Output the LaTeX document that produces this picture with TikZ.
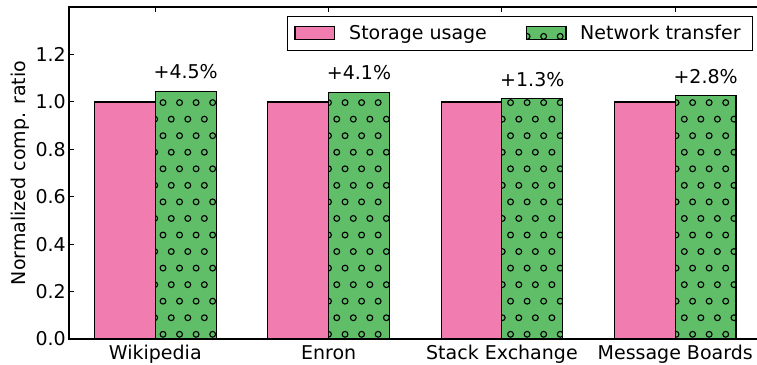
\documentclass[tikz,border=0pt]{standalone}
\usepackage{fontspec}
\setmainfont{DejaVu Sans}
\definecolor{storagepink}{HTML}{F17CB0}
\definecolor{netgreen}{HTML}{60BD68}
\begin{document}
\begin{tikzpicture}[x=1pt,y=1pt,
  font=\fontsize{19}{23}\selectfont,
  txt/.style={inner sep=0pt},
  spine/.style={line width=1.5pt},
  tickmark/.style={line width=1pt},
  barpink/.style={fill=storagepink,draw=black,line width=1.1pt},
  bargreenfill/.style={fill=netgreen},
  baredge/.style={draw=black,line width=1.1pt},
  hatchdot/.style={draw=black,line width=1.1pt},
  legendframe/.style={draw=black,fill=white,line width=1pt}]
\useasboundingbox (0,0) rectangle (757,364);
\fill[white] (0,0) rectangle (757,364);

% group centres (x) and plot heights: y = 25 + 237*value
% storage bars
\foreach \c in {155.3,328.6,501.9,675.2}
  \draw[barpink] (\c-60.8,25) rectangle (\c,262);

% network transfer bars: fill, dotted hatch, outline
\foreach \c/\h in {155.3/272.67,328.6/271.72,501.9/265.08,675.2/268.64}
  \fill[bargreenfill] (\c,25) rectangle (\c+60.8,\h);
\fill[bargreenfill] (526.7,324.7) rectangle (566,337.3);

\begin{scope}
  \clip (155.3,25) rectangle (216.1,272.67)
        (328.6,25) rectangle (389.4,271.72)
        (501.9,25) rectangle (562.7,265.08)
        (675.2,25) rectangle (736.0,268.64)
        (526.7,324.7) rectangle (566,337.3);
  \foreach \j in {0,...,9}{
    \foreach \k in {0,...,35}{
      \draw[hatchdot] ({163+16.55*\k},{29.7+33.1*\j}) circle[radius=2.9];
      \draw[hatchdot] ({154.7+16.55*\k},{46.25+33.1*\j}) circle[radius=2.9];
    }}
\end{scope}

\foreach \c/\h in {155.3/272.67,328.6/271.72,501.9/265.08,675.2/268.64}
  \draw[baredge] (\c,25) rectangle (\c+60.8,\h);
\draw[baredge] (526.7,324.7) rectangle (566,337.3);

% value labels above the network bars
\node[txt,anchor=base] (labA) at (185.7,285.05) {+4.5\%};
\node[txt,anchor=base] (labB) at (359.0,284.05) {+4.1\%};
\node[txt,anchor=base] (labC) at (532.3,277.09) {+1.3\%};
\node[txt,anchor=base] (labD) at (705.6,280.82) {+2.8\%};

% ticks
\foreach \y in {25,72.4,119.8,167.2,214.6,262,309.4,356.8}{
  \draw[tickmark] (69,\y) -- (74,\y);
  \draw[tickmark] (762,\y) -- (757,\y);
}
\foreach \c in {155.3,328.6,501.9,675.2}{
  \draw[tickmark] (\c,356.8) -- (\c,351.8);
  \draw[tickmark] (\c,25) -- (\c,30);
}

% axes frame
\draw[spine] (69,25) rectangle (762,356.8);

% y tick labels
\foreach \y/\t in {25/0.0,72.4/0.2,119.8/0.4,167.2/0.6,214.6/0.8,262/1.0,309.4/1.2}
  \node[txt,anchor=base east] at (66,\y-6.9) {\t};

% axis label
\node[txt,rotate=90,anchor=base] (ylab) at (25.5,191) {Normalized comp. ratio};

% category labels
\node[txt,anchor=base] (catA) at (155.3,5) {Wikipedia};
\node[txt,anchor=base] (catB) at (328.6,5) {Enron};
\node[txt,anchor=base] (catC) at (501.9,5) {Stack Exchange};
\node[txt,anchor=base] (catD) at (675.2,5) {Message Boards};

% legend
\draw[legendframe] (287.3,313.3) rectangle (752.7,347.3);
\draw[barpink] (295,324.7) rectangle (334.3,337.3);
\fill[bargreenfill] (526.7,324.7) rectangle (566,337.3);
\begin{scope}
  \clip (526.7,324.7) rectangle (566,337.3);
  \foreach \k in {22,23,24}
    \draw[hatchdot] ({163+16.55*\k},327.6) circle[radius=2.9];
\end{scope}
\draw[baredge] (526.7,324.7) rectangle (566,337.3);
\node[txt,anchor=base west] (legA) at (349,324.7) {Storage usage};
\node[txt,anchor=base west] (legB) at (580,324.7) {Network transfer};
\end{tikzpicture}
\end{document}
